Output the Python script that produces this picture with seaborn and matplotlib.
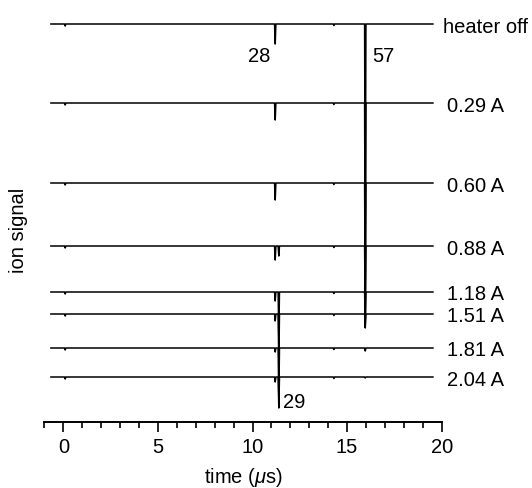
import numpy as np
import pandas as pd
import matplotlib
matplotlib.use("Agg")
import matplotlib.pyplot as plt
from matplotlib.ticker import MultipleLocator
import seaborn as sns

# Heater currents and the vertical offset of each stacked trace
currents = ["heater off", "0.29 A", "0.60 A", "0.88 A", "1.18 A", "1.51 A", "1.81 A", "2.04 A"]
offsets = [0, -79, -159, -222, -268, -290, -324, -353]

# Arrival times (µs) of the mass peaks
t28, t29, t57 = 11.20, 11.39, 15.96
# Peak depths (arbitrary ion-signal units) for each trace
depth_28 = [20, 17, 17, 14, 9, 7, 4, 5]
depth_29 = [0, 0, 0, 10, 45, 50, 52, 31]
depth_57 = [225, 196, 131, 82, 33, 12, 3, 1]
# Small features common to all traces: trigger pick-up and a weak peak
blip_times = [0.10, 14.30]
blip_depth = [2.0, 1.5]

t_start, t_end = -0.67, 19.55
half_width = 0.035

rows = []
for i, name in enumerate(currents):
    base = offsets[i]
    feats = [(t28, depth_28[i]), (t29, depth_29[i]), (t57, depth_57[i])]
    feats += list(zip(blip_times, blip_depth))
    feats = sorted(f for f in feats if f[1] > 0)
    verts = [(t_start, base)]
    for tp, d in feats:
        verts += [(tp - half_width, base), (tp, base - d), (tp + half_width, base)]
    verts.append((t_end, base))
    for t, s in verts:
        rows.append({"trace": name, "time": t, "signal": s})
df = pd.DataFrame(rows)

sns.set_style("ticks")
plt.rcParams["font.family"] = ["Liberation Sans", "DejaVu Sans"]
plt.rcParams["mathtext.fontset"] = "custom"
plt.rcParams["mathtext.rm"] = "Liberation Sans"
plt.rcParams["mathtext.it"] = "Liberation Sans:italic"
plt.rcParams["text.color"] = "black"
plt.rcParams["axes.labelcolor"] = "black"
plt.rcParams["xtick.color"] = "black"
plt.rcParams["axes.edgecolor"] = "black"

fig = plt.figure(figsize=(5.32, 4.89), dpi=100)
ax = fig.add_axes([44.4 / 532, 1 - 422.7 / 489, (441.7 - 44.4) / 532, (422.7 - 5) / 489])

sns.lineplot(data=df, x="time", y="signal", units="trace", estimator=None,
             sort=False, color="black", linewidth=1.1, ax=ax, legend=False)

ax.set_xlim(-1, 20)
ax.set_ylim(-397.7, 20)
ax.xaxis.set_major_locator(MultipleLocator(5))
ax.xaxis.set_minor_locator(MultipleLocator(1))
ax.tick_params(axis="x", which="major", length=7, width=1.2, labelsize=14.5, pad=4, color="black")
ax.tick_params(axis="x", which="minor", length=4.5, width=1.2, color="black")
ax.set_yticks([])
for side in ("left", "top", "right"):
    ax.spines[side].set_visible(False)
ax.spines["bottom"].set_linewidth(1.4)
ax.set_ylabel("")
ax.set_xlabel(r"time ($\mu$s)", fontsize=14.5, va="center")
ax.xaxis.set_label_coords(0.5, -0.132)

fig.text(18 / 532, 1 - 230 / 489, "ion signal", rotation=90, fontsize=14.5,
         ha="center", va="center")

# Trace labels at the right end
for i, name in enumerate(currents):
    x = 20.05 if i == 0 else 20.3
    ax.text(x, offsets[i] - 2, name, fontsize=14.5, ha="left", va="center", clip_on=False)

# Mass labels next to the peaks
ax.text(10.93, -31, "28", fontsize=14.5, ha="right", va="center")
ax.text(16.33, -31, "57", fontsize=14.5, ha="left", va="center")
ax.text(11.62, -378, "29", fontsize=14.5, ha="left", va="center")

fig.savefig("out.png", dpi=100, facecolor="white")
